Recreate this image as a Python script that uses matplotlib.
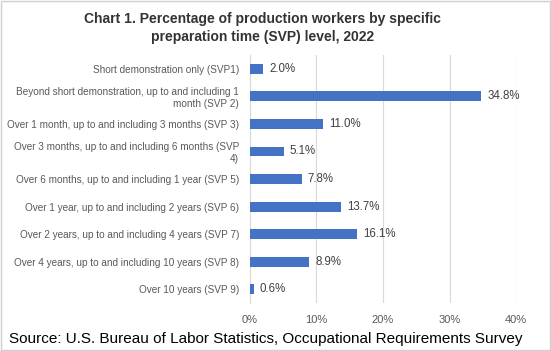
import matplotlib.pyplot as plt
from matplotlib.patches import Rectangle

categories = [
    "Short demonstration only (SVP1)",
    "Beyond short demonstration, up to and including 1\nmonth (SVP 2)",
    "Over 1 month, up to and including 3 months (SVP 3)",
    "Over 3 months, up to and including 6 months (SVP\n4)",
    "Over 6 months, up to and including 1 year (SVP 5)",
    "Over 1 year, up to and including 2 years (SVP 6)",
    "Over 2 years, up to and including 4 years (SVP 7)",
    "Over 4 years, up to and including 10 years (SVP 8)",
    "Over 10 years (SVP 9)",
]
values = [2.0, 34.8, 11.0, 5.1, 7.8, 13.7, 16.1, 8.9, 0.6]
xticks = [0, 10, 20, 30, 40]

plt.rcParams['font.family'] = ['Liberation Sans', 'DejaVu Sans']
gray = "#595959"

fig = plt.figure(figsize=(5.51, 3.51), dpi=100)
ax = fig.add_axes([0.4537, 0.137, 0.4828, 0.706])

ypos = list(range(len(categories)))
ax.barh(ypos, values, height=0.36, color="#4472C4", zorder=3)
for y, v in zip(ypos, values):
    ax.text(v + 0.9, y, f"{v:.1f}%", va="center", ha="left", fontsize=8.3, color="#404040")

ax.set_yticks(ypos)
ax.set_yticklabels(categories, fontsize=7.2, color=gray, linespacing=1.2)
ax.set_ylim(len(categories) - 0.5, -0.5)
ax.set_xlim(0, 40)
ax.set_xticks(xticks)
ax.set_xticklabels([f"{t}%" for t in xticks], fontsize=8, color=gray)
ax.tick_params(axis="y", length=0, pad=8)
ax.tick_params(axis="x", length=0, pad=9)
ax.grid(axis="x", color="#d9d9d9", linewidth=0.8, zorder=0)
for s in ["top", "right", "bottom"]:
    ax.spines[s].set_visible(False)
ax.spines["left"].set_color("#d9d9d9")
ax.spines["left"].set_linewidth(0.8)

fig.text(0.477, 0.92, "Chart 1. Percentage of production workers by specific\npreparation time (SVP) level, 2022",
         ha="center", va="center", fontsize=10, fontweight="bold", color="#333333", linespacing=1.35)
fig.text(0.016, 0.035, "Source: U.S. Bureau of Labor Statistics, Occupational Requirements Survey",
         ha="left", va="center", fontsize=11, color="black")

fig.patches.append(Rectangle((0.002, 0.003), 0.996, 0.994, transform=fig.transFigure,
                             fill=False, edgecolor="#d0d0d0", linewidth=1))

fig.savefig("out.png", dpi=100)
